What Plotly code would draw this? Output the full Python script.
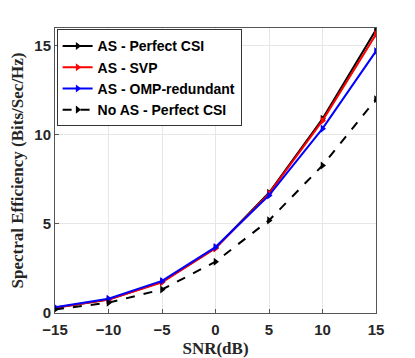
import plotly.graph_objects as go

# SNR values and spectral efficiency
snr = [-15, -10, -5, 0, 5, 10, 15]
as_perfect = [0.30, 0.75, 1.75, 3.65, 6.75, 10.9, 15.9]
as_svp = [0.30, 0.75, 1.72, 3.63, 6.70, 10.8, 15.65]
as_omp = [0.32, 0.80, 1.80, 3.70, 6.60, 10.35, 14.7]
noas_perfect = [0.20, 0.58, 1.32, 2.88, 5.20, 8.28, 12.0]

xticks = [-15, -10, -5, 0, 5, 10, 15]
yticks = [0, 5, 10, 15]

fig = go.Figure()

series = [
    ("AS - Perfect CSI", as_perfect, "black", "solid"),
    ("AS - SVP", as_svp, "red", "solid"),
    ("AS - OMP-redundant", as_omp, "blue", "solid"),
    ("No AS - Perfect CSI", noas_perfect, "black", "dash"),
]
for name, vals, col, dash in series:
    fig.add_trace(go.Scatter(
        x=snr, y=vals, name=name, mode="lines+markers",
        line=dict(color=col, width=2, dash=dash),
        marker=dict(symbol="triangle-right", size=7, color=col),
    ))

axis_common = dict(
    showgrid=True, gridcolor="#e6e6e6", gridwidth=1,
    showline=True, linecolor="#555555", linewidth=1, mirror=True,
    ticks="inside", ticklen=4, tickcolor="#555555",
    zeroline=False, automargin=False,
    tickfont=dict(family="Liberation Sans", size=15, color="#262626", weight="bold"),
)

fig.update_xaxes(
    range=[-15, 15], tickvals=xticks, ticklabelstandoff=3,
    title=dict(text="<b>SNR(dB)</b>", standoff=6,
               font=dict(family="Liberation Serif", size=17, color="#262626")),
    **axis_common,
)
fig.update_yaxes(
    range=[0, 16], tickvals=yticks,
    title=dict(text="<b>Spectral Efficiency (Bits/Sec/Hz)</b>", standoff=8,
               font=dict(family="Liberation Serif", size=17, color="#262626")),
    **axis_common,
)

# the page body adds an 8px margin, so the figure is a bit smaller and shifted
fig.update_layout(
    width=407, height=350,
    margin=dict(l=47, r=39, t=20, b=45),
    plot_bgcolor="white", paper_bgcolor="white",
    font=dict(family="Liberation Sans", color="black"),
    legend=dict(
        x=0.005, y=0.995, xanchor="left", yanchor="top",
        bgcolor="white", bordercolor="#333333", borderwidth=1,
        font=dict(family="Liberation Sans", size=14, color="black", weight="bold"),
        itemwidth=30, tracegroupgap=0,
    ),
)

fig.write_html("out.html")
